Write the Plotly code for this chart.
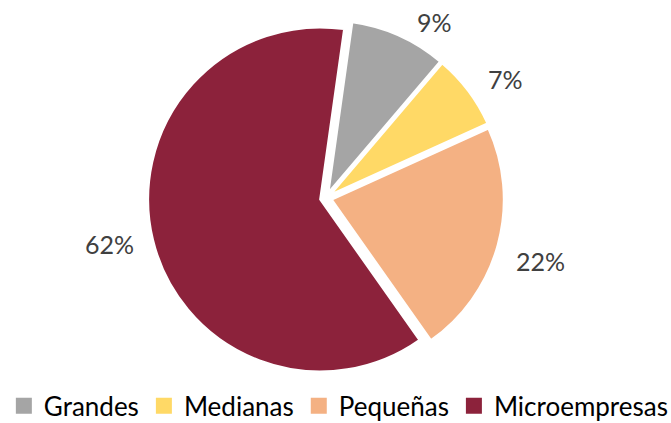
import plotly.graph_objects as go

# Company size shares
categories = ["Grandes", "Medianas", "Pequeñas", "Microempresas"]
shares = [9, 7, 22, 62]
colors = ["#A5A5A5", "#FFD966", "#F4B183", "#8C223B"]

# Label centre points (paper coords) for each percentage
label_pos = [(0.647, 0.948), (0.753, 0.813), (0.805, 0.383), (0.163, 0.423)]

W, H = 671, 423
cx, cy, R = 326, 198, 178

fig = go.Figure()
fig.add_trace(go.Pie(
    labels=categories,
    values=shares,
    sort=False,
    direction="clockwise",
    rotation=8,
    pull=[0.035] * len(shares),
    marker=dict(colors=colors, line=dict(color="white", width=2)),
    textinfo="none",
    hoverinfo="label+percent",
    showlegend=False,
    domain=dict(x=[(cx - R) / W, (cx + R) / W],
                y=[(H - cy - R) / H, (H - cy + R) / H]),
))

# Legend entries with square swatches
for name, col in zip(categories, colors):
    fig.add_trace(go.Scatter(
        x=[None], y=[None], mode="markers", name=name,
        marker=dict(symbol="square", size=16, color=col),
        hoverinfo="skip",
    ))

for (x, y), v in zip(label_pos, shares):
    fig.add_annotation(x=x, y=y, xref="paper", yref="paper",
                       xanchor="center", yanchor="middle",
                       text=f"{v}%", showarrow=False,
                       font=dict(size=25, color="#404040", family="Lato"))

fig.update_layout(
    width=W, height=H,
    margin=dict(l=0, r=0, t=0, b=0, autoexpand=False),
    paper_bgcolor="white",
    plot_bgcolor="white",
    font=dict(family="Lato", color="#000000"),
    xaxis=dict(visible=False),
    yaxis=dict(visible=False),
    legend=dict(orientation="h", x=0.505, xanchor="center", y=-0.015, yanchor="bottom",
                font=dict(size=26, color="#000000"), itemwidth=30,
                traceorder="normal", itemsizing="trace"),
)

fig.write_html("out.html")
